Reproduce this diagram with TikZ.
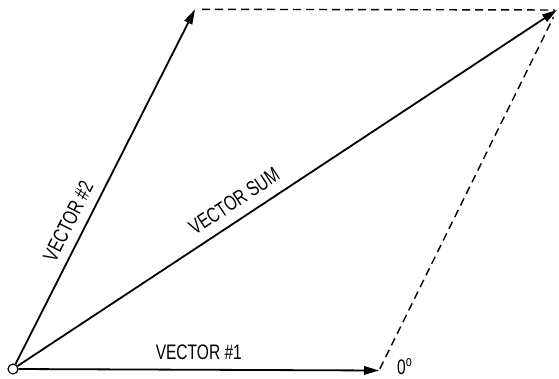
\documentclass[tikz,border=0pt]{standalone}
\usepackage{fontspec}
\usepackage{graphicx}
\setmainfont{Liberation Sans}
\usetikzlibrary{arrows.meta}
\newcommand{\narrowtxt}[1]{\scalebox{0.74}[1]{#1}}
\tikzset{
  vec/.style={line width=1.8pt, -{Triangle[length=15pt,width=8.5pt]}},
  guide/.style={line width=1.4pt, dash pattern=on 8pt off 5pt},
  lab/.style={font=\fontsize{21}{23}\selectfont, inner sep=0pt},
}
\begin{document}
\begin{tikzpicture}[x=1pt,y=1pt]
\useasboundingbox (0,0) rectangle (559,378);
\node[circle, draw, line width=1.2pt, fill=white, minimum size=10pt, inner sep=0pt] (O) at (13,9) {};
\coordinate (A) at (379,7.5);
\coordinate (B) at (195,368.7);
\coordinate (C) at (557,368);
\draw[guide, shorten <=7pt, shorten >=2pt] (B) -- (C);
\draw[guide, shorten <=2pt, shorten >=8pt] (A) -- (C);
\draw[vec] (O) -- (A) node[lab, midway, above=9pt] (l1) {\narrowtxt{VECTOR \#1}};
\draw[vec] (O) -- (B) node[lab, pos=0.38, sloped, above=9pt] (l2) {\narrowtxt{VECTOR \#2}};
\draw[vec] (O) -- (C) node[lab, pos=0.42, sloped, above=10pt] (ls) {\narrowtxt{VECTOR SUM}};
\node[lab, anchor=base west] (deg) at (397,3.5) {\narrowtxt{0\textsuperscript{o}}};
\end{tikzpicture}
\end{document}
